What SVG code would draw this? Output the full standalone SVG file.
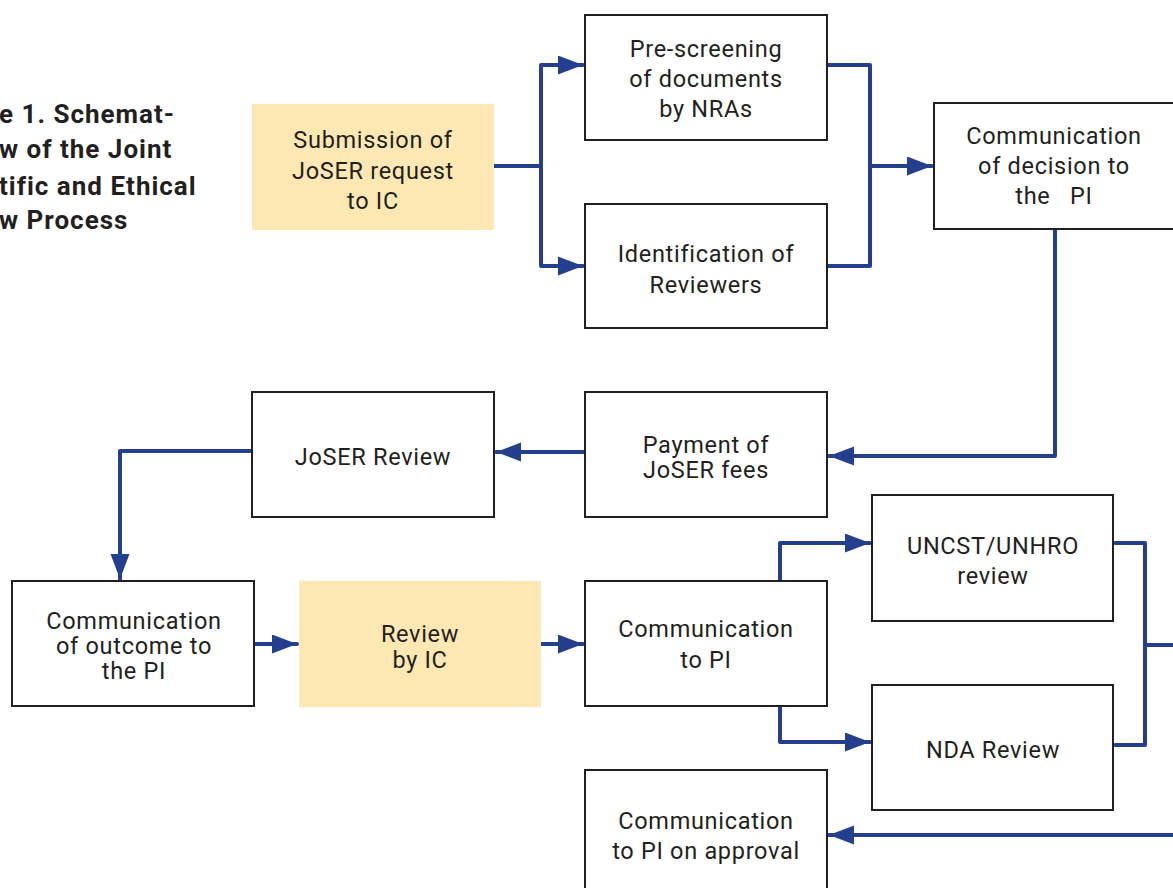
<svg xmlns="http://www.w3.org/2000/svg" width="1173" height="888" viewBox="0 0 1173 888">
<style>
.box{fill:#ffffff;stroke:#231f20;stroke-width:2}
.hl{fill:#fde8b4;stroke:none}
.t{font-family:Roboto,"Liberation Sans",sans-serif;font-size:23.5px;font-weight:400;fill:#231f20;text-anchor:middle;letter-spacing:0.7px}
.title{font-family:Roboto,"Liberation Sans",sans-serif;font-size:26px;font-weight:700;fill:#231f20;letter-spacing:1px}
.c{fill:none;stroke:#253f8f;stroke-width:4;stroke-linejoin:round;stroke-linecap:round}
</style>
<defs>
<marker id="ah" markerUnits="userSpaceOnUse" markerWidth="26" markerHeight="20" refX="25" refY="9.5" orient="auto">
<path d="M0,0 L25,9.5 L0,19 Z" fill="#253f8f"/>
</marker>
</defs>
<rect width="1173" height="888" fill="#ffffff"/>
<g id="title">
<text class="title" x="-1" y="123">e 1. Schemat-</text>
<text class="title" x="-1" y="158">w of the Joint</text>
<text class="title" x="-1" y="195">tific and Ethical</text>
<text class="title" x="-1" y="229">w Process</text>
</g>
<g id="connectors">
<path class="c" d="M494,166 H541 V65 H583" marker-end="url(#ah)"/>
<path class="c" d="M541,166 V266 H583" marker-end="url(#ah)"/>
<path class="c" d="M828,65 H870 V266 H828"/>
<path class="c" d="M870,166 H932" marker-end="url(#ah)"/>
<path class="c" d="M1055,229 V456 H829" marker-end="url(#ah)"/>
<path class="c" d="M585,452 H496" marker-end="url(#ah)"/>
<path class="c" d="M252,451 H120 V579" marker-end="url(#ah)"/>
<path class="c" d="M255,644 H297" marker-end="url(#ah)"/>
<path class="c" d="M541,644 H583" marker-end="url(#ah)"/>
<path class="c" d="M780,580 V543 H870" marker-end="url(#ah)"/>
<path class="c" d="M780,707 V742 H870" marker-end="url(#ah)"/>
<path class="c" d="M1115,543 H1145 V745 H1115"/>
<path class="c" d="M1145,645 H1175"/>
<path class="c" d="M1175,835 H829" marker-end="url(#ah)"/>
</g>
<g id="submission">
<rect class="hl" x="252" y="104" width="242" height="126"/>
<text class="t" x="373" y="148">Submission of</text>
<text class="t" x="373" y="179">JoSER request</text>
<text class="t" x="373" y="209">to IC</text>
</g>
<g id="prescreening">
<rect class="box" x="585" y="15" width="242" height="125"/>
<text class="t" x="706" y="57">Pre-screening</text>
<text class="t" x="706" y="87">of documents</text>
<text class="t" x="706" y="117">by NRAs</text>
</g>
<g id="identification">
<rect class="box" x="585" y="204" width="242" height="124"/>
<text class="t" x="706" y="262">Identification of</text>
<text class="t" x="706" y="293">Reviewers</text>
</g>
<g id="decision">
<rect class="box" x="934" y="103" width="245" height="126"/>
<text class="t" x="1054" y="144">Communication</text>
<text class="t" x="1054" y="174">of decision to</text>
<text class="t" x="1054" y="204" xml:space="preserve">the   PI</text>
</g>
<g id="payment">
<rect class="box" x="585" y="392" width="242" height="125"/>
<text class="t" x="706" y="453">Payment of</text>
<text class="t" x="706" y="478">JoSER fees</text>
</g>
<g id="joser-review">
<rect class="box" x="252" y="392" width="242" height="125"/>
<text class="t" x="373" y="465">JoSER Review</text>
</g>
<g id="outcome">
<rect class="box" x="12" y="581" width="242" height="125"/>
<text class="t" x="134" y="629">Communication</text>
<text class="t" x="134" y="654">of outcome to</text>
<text class="t" x="134" y="679">the PI</text>
</g>
<g id="review-ic">
<rect class="hl" x="299" y="581" width="242" height="126"/>
<text class="t" x="420" y="642">Review</text>
<text class="t" x="420" y="668">by IC</text>
</g>
<g id="comm-pi">
<rect class="box" x="585" y="581" width="242" height="125"/>
<text class="t" x="706" y="637">Communication</text>
<text class="t" x="706" y="668">to PI</text>
</g>
<g id="uncst">
<rect class="box" x="872" y="495" width="241" height="126"/>
<text class="t" x="993" y="554">UNCST/UNHRO</text>
<text class="t" x="993" y="584">review</text>
</g>
<g id="nda">
<rect class="box" x="872" y="685" width="241" height="125"/>
<text class="t" x="993" y="758">NDA Review</text>
</g>
<g id="approval">
<rect class="box" x="585" y="770" width="242" height="125"/>
<text class="t" x="706" y="829">Communication</text>
<text class="t" x="706" y="859">to PI on approval</text>
</g>
</svg>
